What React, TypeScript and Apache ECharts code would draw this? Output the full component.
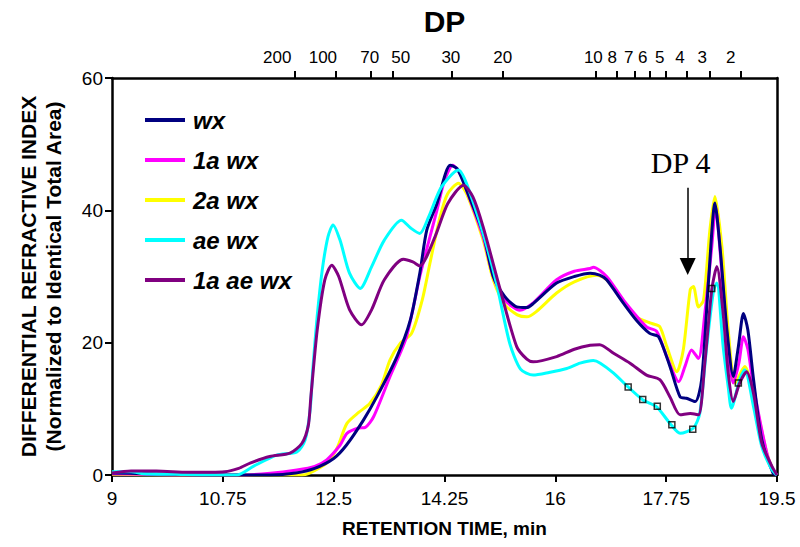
import React, { useEffect, useRef } from "react";
import * as echarts from "echarts";

// Bottom axis (retention time, min)
const xTicks = [9, 10.75, 12.5, 14.25, 16, 17.75, 19.5];
const yTicksMax = 60;

// Top axis (DP)
const dpLabels = ["200", "100", "70", "50", "30", "20", "10", "8", "7", "6", "5", "4", "3", "2"];
const dpTickTimes = [11.89, 12.53, 13.09, 13.44, 14.37, 15.17, 16.64, 16.97, 17.26, 17.49, 17.75, 18.07, 18.44, 18.92];
const dpLabelTimes = [11.61, 12.33, 13.07, 13.56, 14.35, 15.17, 16.6, 16.9, 17.16, 17.38, 17.65, 17.97, 18.32, 18.77];

const seriesNames = ["wx", "1a wx", "2a wx", "ae wx", "1a ae wx"];
const seriesColors = ["#000080", "#FF00FF", "#FFFF00", "#00FFFF", "#800080"];

const wx = [
  [9.0, 0.3], [9.5, 0.2], [10.0, 0.1], [10.5, 0.0], [11.0, 0.0], [11.5, 0.0], [11.9, 0.3], [12.2, 1.0],
  [12.5, 2.5], [12.7, 4.5], [12.97, 8.3], [13.18, 11.8], [13.5, 17.9], [13.71, 23.4], [13.86, 30.5],
  [13.97, 37], [14.13, 41], [14.34, 46.8], [14.45, 46.3], [14.6, 43], [14.86, 36.5], [15.02, 30],
  [15.2, 27], [15.39, 25.4], [15.55, 25.3], [15.65, 25.9], [16.02, 29], [16.3, 30], [16.55, 30.5],
  [16.7, 30.2], [16.81, 29.5], [17.08, 25.9], [17.28, 23.4], [17.49, 21.4], [17.63, 20.9], [17.81, 16.4],
  [17.97, 11.8], [18.07, 11.6], [18.21, 11.1], [18.31, 14.4], [18.42, 29.5], [18.52, 41.1], [18.6, 34.5],
  [18.71, 21.9], [18.81, 14.9], [18.89, 19.4], [18.97, 24.4], [19.04, 21.9], [19.13, 14.4], [19.26, 5.3],
  [19.44, 0.25], [19.5, 0],
];

const wx1a = [
  [9.0, 0.2], [9.5, 0.1], [10.0, 0.0], [10.5, 0.0], [11.0, 0.0], [11.5, 0.25], [11.92, 0.75], [12.2, 1.3],
  [12.39, 2.3], [12.6, 4.5], [12.71, 6.3], [12.89, 7.1], [13.0, 7.2], [13.13, 8.8], [13.39, 14.9],
  [13.65, 20.9], [13.86, 30], [14.02, 36], [14.13, 40], [14.25, 44.5], [14.38, 46.8], [14.5, 45.5],
  [14.6, 43], [14.86, 36], [15.02, 30], [15.2, 26.5], [15.44, 24.9], [15.65, 26], [16.02, 29.5],
  [16.3, 30.8], [16.55, 31.2], [16.6, 31.4], [16.81, 30], [17.08, 26.4], [17.44, 22.4], [17.6, 21.7],
  [17.76, 17.9], [17.95, 14.1], [18.05, 16.5], [18.15, 18.9], [18.26, 17.6], [18.36, 24.4], [18.47, 34.5],
  [18.53, 40.5], [18.6, 34], [18.71, 20.9], [18.81, 13.9], [18.9, 17], [18.97, 20.9], [19.04, 19],
  [19.13, 13.3], [19.34, 3.3], [19.45, 0.5], [19.5, 0],
];

const wx2a = [
  [9.0, 0.1], [10.0, 0.0], [11.0, 0.0], [12.0, 0.0], [12.1, 0.2], [12.39, 1.8], [12.55, 4], [12.71, 7.8],
  [12.9, 9.5], [13.07, 10.8], [13.25, 13.5], [13.39, 17.4], [13.55, 19.9], [13.73, 21.4], [13.9, 26.5],
  [14.02, 32], [14.18, 39], [14.3, 42.5], [14.47, 44.1], [14.6, 42.5], [14.86, 35.5], [15.02, 29.5],
  [15.2, 25.8], [15.4, 24.2], [15.55, 23.9], [15.7, 24.7], [16.02, 27.5], [16.3, 29.2], [16.65, 30.2],
  [16.81, 29.5], [17.28, 23.9], [17.52, 22.9], [17.65, 22.4], [17.76, 19.4], [17.92, 15.6], [18.02, 18.9],
  [18.13, 28], [18.18, 28.5], [18.26, 25.4], [18.34, 26.4], [18.44, 37], [18.52, 42.1], [18.63, 34.5],
  [18.73, 21.9], [18.84, 13.9], [18.99, 16.4], [19.13, 12.3], [19.34, 3.3], [19.45, 0.5], [19.5, 0],
];

const aeWx = [
  [9.0, 0.5], [9.3, 0.5], [9.5, 0.2], [10.0, 0.1], [10.5, 0], [10.97, 0], [11.23, 1.3], [11.6, 3],
  [11.92, 3.5], [12.05, 5.3], [12.13, 10], [12.17, 15.9], [12.24, 24], [12.32, 31], [12.41, 36],
  [12.49, 37.8], [12.6, 35.5], [12.75, 30.5], [12.92, 28.2], [13.1, 31.5], [13.3, 35.5], [13.57, 38.5],
  [13.72, 37.3], [13.86, 36.5], [14.0, 39], [14.2, 43.5], [14.47, 46.1], [14.6, 44], [14.86, 36.5],
  [15.07, 29], [15.28, 19.9], [15.45, 16], [15.65, 15.1], [15.9, 15.5], [16.18, 16.1], [16.39, 16.9],
  [16.6, 17.3], [16.71, 16.9], [16.92, 15.4], [17.15, 13.3], [17.39, 11.3], [17.6, 10.3], [17.81, 7.8],
  [17.97, 6.3], [18.18, 7.1], [18.28, 9.3], [18.39, 19.4], [18.5, 28], [18.55, 29], [18.65, 19.4],
  [18.73, 13.3], [18.78, 10.1], [18.91, 14.4], [18.99, 15.9], [19.13, 10.3], [19.26, 4.3], [19.42, 0.8],
  [19.5, 0],
];

const aeWx1a = [
  [9.0, 0.3], [9.3, 0.6], [9.7, 0.6], [10.2, 0.4], [10.78, 0.5], [11.0, 1], [11.18, 1.8], [11.49, 2.8],
  [11.81, 3.3], [12.0, 4.8], [12.1, 7.5], [12.14, 11.8], [12.24, 21.9], [12.36, 29.5], [12.47, 31.7],
  [12.58, 30], [12.75, 25], [12.94, 22.7], [13.1, 25], [13.3, 29.5], [13.6, 32.6], [13.75, 32.2],
  [13.86, 31.6], [14.1, 36], [14.3, 41], [14.55, 43.8], [14.7, 42], [14.86, 37.5], [15.13, 28],
  [15.39, 19.4], [15.55, 17.5], [15.65, 17.1], [16.02, 17.9], [16.3, 19], [16.55, 19.6], [16.7, 19.7],
  [16.92, 18.4], [17.18, 16.9], [17.44, 15.1], [17.65, 14.4], [17.81, 11.8], [17.97, 9.1], [18.13, 9.3],
  [18.26, 9.1], [18.36, 16.9], [18.47, 28], [18.55, 31.5], [18.65, 24.4], [18.73, 15.4], [18.81, 11.1],
  [18.91, 13.9], [19.02, 15.6], [19.13, 12.3], [19.26, 4.8], [19.42, 1.3], [19.5, 0],
];

// Small square data markers
const squareMarkers = [
  [17.15, 13.3], [17.38, 11.4], [17.61, 10.4], [17.84, 7.6], [18.17, 6.9], [18.47, 28.2], [18.89, 13.9],
];

// "DP 4" annotation
const annotationText = "DP 4";
const annotationTextPos = [17.98, 47.3];
const arrowTime = 18.09;
const arrowFrom = 43.4;
const arrowTo = 31.5;

const FONT = "Liberation Sans, Arial, sans-serif";

export default function App() {
  const ref = useRef<HTMLDivElement>(null);

  useEffect(() => {
    document.body.style.margin = "0";
    if (!ref.current) return;
    const chart = echarts.init(ref.current, undefined, { renderer: "svg" });

    const curves = [wx, wx1a, wx2a, aeWx, aeWx1a];
    const drawOrder = [2, 1, 0, 3, 4];

    const lineSeries: any[] = drawOrder.map((i) => ({
      name: seriesNames[i],
      type: "line",
      data: curves[i],
      xAxisIndex: 0,
      yAxisIndex: 0,
      symbol: "none",
      showSymbol: false,
      smooth: 0.25,
      lineStyle: { color: seriesColors[i], width: 3 },
      itemStyle: { color: seriesColors[i] },
      z: 2 + drawOrder.indexOf(i),
    }));

    const option: any = {
      animation: false,
      backgroundColor: "#ffffff",
      textStyle: { fontFamily: FONT },
      grid: { left: 112, right: 23, top: 78, bottom: 72, containLabel: false, outerBoundsMode: "none" },
      legend: {
        data: seriesNames,
        orient: "vertical",
        left: 145,
        top: 108,
        padding: 0,
        icon: "rect",
        itemWidth: 40,
        itemHeight: 4,
        itemGap: 16,
        textStyle: {
          fontFamily: FONT,
          fontWeight: "bold",
          fontStyle: "italic",
          fontSize: 24,
          lineHeight: 24,
          color: "#000",
          padding: [0, 0, 0, 3],
        },
      },
      xAxis: [
        {
          type: "value",
          position: "bottom",
          min: xTicks[0],
          max: xTicks[xTicks.length - 1],
          axisLine: { show: true, onZero: false, lineStyle: { color: "#000", width: 2.5 } },
          axisTick: { show: true, customValues: xTicks, length: 7, lineStyle: { color: "#000", width: 2 } },
          axisLabel: { customValues: xTicks, fontSize: 19, color: "#000", margin: 14, fontFamily: FONT },
          splitLine: { show: false },
          name: "RETENTION TIME, min",
          nameLocation: "middle",
          nameGap: 44,
          nameTextStyle: { fontWeight: "bold", fontSize: 19, color: "#000", fontFamily: FONT },
        },
        {
          type: "value",
          position: "top",
          min: xTicks[0],
          max: xTicks[xTicks.length - 1],
          axisLine: { show: true, onZero: false, lineStyle: { color: "#000", width: 2.5 } },
          axisTick: { show: true, customValues: dpTickTimes, length: 7, lineStyle: { color: "#000", width: 2 } },
          axisLabel: {
            customValues: dpLabelTimes,
            fontSize: 17,
            color: "#000",
            margin: 12,
            fontFamily: FONT,
            formatter: (v: number) => {
              let best = 0;
              for (let i = 1; i < dpLabelTimes.length; i++) {
                if (Math.abs(dpLabelTimes[i] - v) < Math.abs(dpLabelTimes[best] - v)) best = i;
              }
              return dpLabels[best];
            },
          },
          splitLine: { show: false },
          name: "DP",
          nameLocation: "middle",
          nameGap: 42,
          nameTextStyle: { fontWeight: "bold", fontSize: 30, color: "#000", fontFamily: FONT },
        },
      ],
      yAxis: [
        {
          type: "value",
          position: "left",
          min: 0,
          max: yTicksMax,
          interval: 20,
          axisLine: { show: true, onZero: false, lineStyle: { color: "#000", width: 2.5 } },
          axisTick: { show: true, length: 7, lineStyle: { color: "#000", width: 2 } },
          axisLabel: { fontSize: 19, color: "#000", margin: 9, fontFamily: FONT },
          splitLine: { show: false },
          name: "DIFFERENTIAL REFRACTIVE INDEX\n(Normalized to Identical Total Area)",
          nameLocation: "middle",
          nameRotate: 90,
          nameGap: 46,
          nameTextStyle: { fontWeight: "bold", fontSize: 21, lineHeight: 25, color: "#000", fontFamily: FONT },
        },
        {
          type: "value",
          position: "right",
          min: 0,
          max: yTicksMax,
          interval: 20,
          axisLine: { show: true, onZero: false, lineStyle: { color: "#000", width: 2.5 } },
          axisTick: { show: false },
          axisLabel: { show: false },
          splitLine: { show: false },
        },
      ],
      series: [
        ...lineSeries,
        {
          name: "markers",
          type: "scatter",
          data: squareMarkers,
          xAxisIndex: 0,
          yAxisIndex: 0,
          symbol: "rect",
          symbolSize: 6,
          itemStyle: { color: "rgba(0,0,0,0)", borderColor: "#000", borderWidth: 1.5 },
          z: 10,
          silent: true,
        },
        {
          name: "annotation",
          type: "line",
          data: [],
          xAxisIndex: 0,
          yAxisIndex: 0,
          z: 11,
          markLine: {
            silent: true,
            symbol: ["none", "triangle"],
            symbolSize: [16, 17],
            lineStyle: { color: "#000", width: 1.5, type: "solid" },
            label: { show: false },
            emphasis: { disabled: true },
            data: [[{ coord: [arrowTime, arrowFrom] }, { coord: [arrowTime, arrowTo] }]],
          },
          markPoint: {
            silent: true,
            symbol: "rect",
            symbolSize: 1,
            itemStyle: { color: "rgba(0,0,0,0)" },
            label: {
              show: true,
              position: "inside",
              formatter: annotationText,
              fontFamily: "Liberation Serif, Times New Roman, serif",
              fontSize: 30,
              color: "#000",
            },
            data: [{ coord: annotationTextPos }],
          },
        },
      ],
    };

    chart.setOption(option);
    return () => chart.dispose();
  }, []);

  return <div ref={ref} style={{ width: 800, height: 547 }} />;
}
